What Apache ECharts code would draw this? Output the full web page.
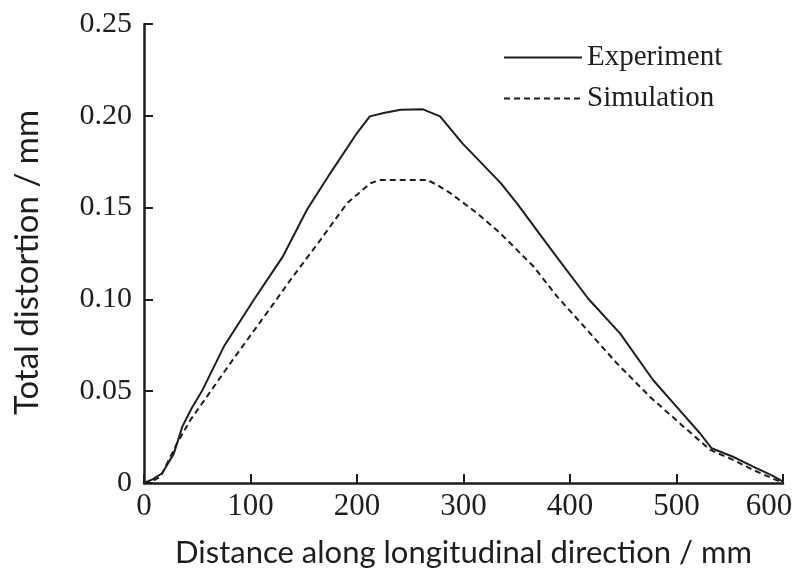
<!DOCTYPE html>
<html>
<head>
<meta charset="utf-8">
<script src="https://cdn.jsdelivr.net/npm/echarts@6/dist/echarts.min.js"></script>
<style>
html,body{margin:0;padding:0;background:#fff;}
#chart{width:799px;height:575px;}
</style>
</head>
<body>
<div id="chart"></div>
<script>
var expX = [0, 8, 17, 28, 36, 45, 55, 75, 103, 130, 153, 175, 200, 212, 225, 241, 262, 278, 299, 335, 350, 385, 417, 447, 478, 500, 522, 533, 553, 572, 590, 600];
var expY = [0, 0.002, 0.0053, 0.016, 0.0307, 0.041, 0.0507, 0.0743, 0.0997, 0.123, 0.1488, 0.1688, 0.1906, 0.1997, 0.2015, 0.2033, 0.2035, 0.1997, 0.185, 0.1633, 0.1524, 0.1251, 0.1005, 0.0815, 0.0561, 0.0416, 0.0271, 0.0189, 0.0143, 0.0089, 0.004, 0.0007];
var simX = [0, 8, 15.5, 31, 43.6, 59, 81, 106, 122, 137.5, 165.7, 190.7, 212.6, 222, 266, 275, 287.6, 312.7, 334.6, 365.8, 388, 416, 444, 475, 506.6, 531.7, 553.5, 572, 600];
var simY = [0, 0.0012, 0.0034, 0.0216, 0.0343, 0.047, 0.0652, 0.0852, 0.098, 0.1106, 0.1324, 0.1524, 0.1633, 0.1651, 0.1651, 0.1624, 0.1579, 0.147, 0.136, 0.1179, 0.1015, 0.0834, 0.0652, 0.047, 0.0307, 0.018, 0.0125, 0.0071, 0];
var seriesNames = ['Experiment', 'Simulation'];
var xTitle = 'Distance along longitudinal direction / mm';
var yTitle = 'Total distortion / mm';

function pairs(xs, ys) { return xs.map(function (x, i) { return [x, ys[i]]; }); }

var chart = echarts.init(document.getElementById('chart'));
var ink = '#1e1e1e';
var serif = '"Liberation Serif", "DejaVu Serif", serif';
var sans = 'Lato, "Open Sans", sans-serif';
chart.setOption({
  animation: false,
  backgroundColor: '#fff',
  grid: { left: 144, right: 16, top: 24, bottom: 92, containLabel: false, outerBoundsMode: 'none' },
  legend: {
    orient: 'vertical',
    left: 498, top: 38,
    itemWidth: 78, itemHeight: 14, itemGap: 12,
    itemStyle: { opacity: 0 },
    textStyle: { fontFamily: serif, fontSize: 29, color: ink },
    data: seriesNames
  },
  xAxis: {
    type: 'value', min: 0, max: 600, interval: 100,
    axisLine: { show: true, lineStyle: { color: ink, width: 2.5 } },
    axisTick: { show: true, inside: true, length: 9, lineStyle: { color: ink, width: 2 } },
    splitLine: { show: false },
    axisLabel: { fontFamily: serif, fontSize: 31, color: ink, margin: 8,
      formatter: function (v) { return v === 600 ? '{last|600}' : String(v); },
      rich: { last: { fontFamily: serif, fontSize: 31, color: ink, padding: [0, 28, 0, 0] } } },
    name: xTitle, nameLocation: 'middle', nameGap: 54,
    nameTextStyle: { fontFamily: sans, fontSize: 31, color: ink }
  },
  yAxis: {
    type: 'value', min: 0, max: 0.25, interval: 0.05,
    axisLine: { show: true, lineStyle: { color: ink, width: 2.5 } },
    axisTick: { show: true, inside: true, length: 9, lineStyle: { color: ink, width: 2 } },
    splitLine: { show: false },
    axisLabel: { fontFamily: serif, fontSize: 30, color: ink, margin: 12,
      formatter: function (v) { return v === 0 ? '0' : v.toFixed(2); } },
    name: yTitle, nameLocation: 'middle', nameGap: 100,
    nameTextStyle: { fontFamily: sans, fontSize: 33, color: ink, padding: [0, 18, 0, 0] }
  },
  series: [
    { name: seriesNames[0], type: 'line', symbol: 'none', data: pairs(expX, expY),
      lineStyle: { color: ink, width: 2, type: 'solid' }, itemStyle: { color: ink } },
    { name: seriesNames[1], type: 'line', symbol: 'none', data: pairs(simX, simY),
      lineStyle: { color: ink, width: 2, type: [6, 4] }, itemStyle: { color: ink } }
  ]
});
</script>
</body>
</html>
